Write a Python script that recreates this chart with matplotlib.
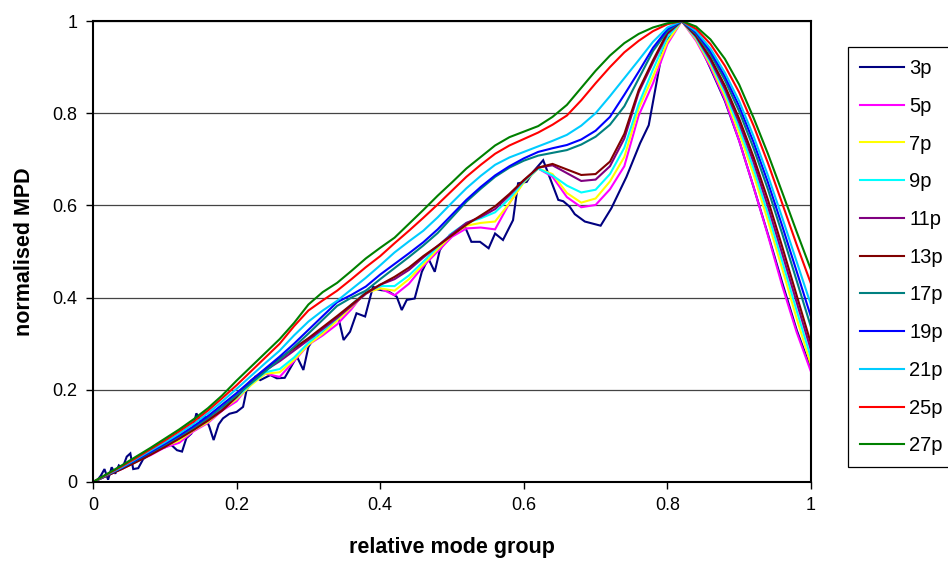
import matplotlib
matplotlib.use("Agg")
import matplotlib.pyplot as plt

plt.rcParams['font.family'] = ['Liberation Sans', 'DejaVu Sans']

# shared x grid for the smoother series
x_grid = [0.00, 0.02, 0.04, 0.06, 0.08, 0.10, 0.12, 0.14, 0.16, 0.18,
          0.20, 0.22, 0.24, 0.26, 0.28, 0.30, 0.32, 0.34, 0.36, 0.38,
          0.40, 0.42, 0.44, 0.46, 0.48, 0.50, 0.52, 0.54, 0.56, 0.58,
          0.60, 0.62, 0.64, 0.66, 0.68, 0.70, 0.72, 0.74, 0.76, 0.78,
          0.80, 0.82, 0.84, 0.86, 0.88, 0.90, 0.92, 0.94, 0.96, 0.98, 1.00]

# 3p is much noisier, read on its own x positions
x_3p = [0.000, 0.006, 0.011, 0.016, 0.021, 0.026, 0.031, 0.036, 0.041, 0.047,
        0.052, 0.056, 0.063, 0.070, 0.079, 0.089, 0.100, 0.108, 0.117, 0.124,
        0.130, 0.137, 0.144, 0.150, 0.156, 0.162, 0.168, 0.175, 0.181, 0.190,
        0.200, 0.209, 0.214, 0.226, 0.233, 0.247, 0.256, 0.267, 0.284, 0.293,
        0.300, 0.309, 0.317, 0.325, 0.337, 0.342, 0.349, 0.358, 0.367, 0.379,
        0.390, 0.396, 0.402, 0.410, 0.423, 0.430, 0.437, 0.448, 0.458, 0.467,
        0.476, 0.483, 0.497, 0.507, 0.518, 0.527, 0.539, 0.551, 0.560, 0.571,
        0.585, 0.592, 0.604, 0.613, 0.627, 0.648, 0.655, 0.664, 0.671, 0.685,
        0.707, 0.722, 0.743, 0.762, 0.774, 0.794, 0.813, 0.820, 0.830, 0.845,
        0.860, 0.880, 0.900, 0.920, 0.943, 0.960, 0.980, 1.000]
mpd_3p = [0.000, 0.004, 0.014, 0.028, 0.005, 0.032, 0.018, 0.036, 0.030, 0.055,
          0.062, 0.028, 0.030, 0.050, 0.059, 0.069, 0.075, 0.082, 0.069, 0.066,
          0.095, 0.105, 0.149, 0.130, 0.142, 0.120, 0.091, 0.125, 0.138, 0.148,
          0.152, 0.163, 0.200, 0.228, 0.221, 0.232, 0.225, 0.226, 0.272, 0.243,
          0.293, 0.315, 0.318, 0.330, 0.352, 0.355, 0.308, 0.326, 0.366, 0.359,
          0.424, 0.418, 0.416, 0.415, 0.402, 0.373, 0.395, 0.398, 0.456, 0.485,
          0.456, 0.503, 0.536, 0.545, 0.554, 0.521, 0.521, 0.507, 0.539, 0.525,
          0.568, 0.648, 0.651, 0.673, 0.698, 0.612, 0.609, 0.597, 0.581, 0.565,
          0.556, 0.594, 0.662, 0.735, 0.774, 0.944, 0.995, 1.000, 0.992, 0.948,
          0.897, 0.827, 0.740, 0.640, 0.522, 0.432, 0.330, 0.245]

mpd_5p = [0, 0.015, 0.028, 0.045, 0.058, 0.075, 0.085, 0.110, 0.128, 0.155,
          0.175, 0.215, 0.235, 0.228, 0.262, 0.298, 0.318, 0.342, 0.375, 0.415,
          0.420, 0.405, 0.430, 0.468, 0.500, 0.532, 0.550, 0.552, 0.548, 0.605,
          0.652, 0.680, 0.662, 0.618, 0.596, 0.601, 0.635, 0.685, 0.795, 0.865,
          0.950, 1.000, 0.957, 0.900, 0.830, 0.740, 0.640, 0.535, 0.425, 0.325, 0.239]
mpd_7p = [0, 0.015, 0.029, 0.045, 0.060, 0.077, 0.090, 0.112, 0.130, 0.157,
          0.180, 0.210, 0.235, 0.238, 0.265, 0.298, 0.322, 0.350, 0.380, 0.410,
          0.420, 0.415, 0.440, 0.472, 0.505, 0.536, 0.556, 0.562, 0.565, 0.605,
          0.650, 0.680, 0.668, 0.627, 0.606, 0.615, 0.652, 0.705, 0.810, 0.880,
          0.955, 1.000, 0.960, 0.905, 0.838, 0.757, 0.667, 0.567, 0.462, 0.355, 0.254]
mpd_9p = [0, 0.015, 0.029, 0.045, 0.061, 0.078, 0.094, 0.114, 0.133, 0.160,
          0.183, 0.213, 0.238, 0.245, 0.270, 0.302, 0.328, 0.355, 0.385, 0.412,
          0.425, 0.425, 0.448, 0.478, 0.510, 0.540, 0.562, 0.572, 0.585, 0.615,
          0.652, 0.680, 0.665, 0.643, 0.628, 0.634, 0.668, 0.725, 0.820, 0.895,
          0.965, 1.000, 0.963, 0.910, 0.846, 0.768, 0.680, 0.582, 0.478, 0.372, 0.269]
mpd_11p = [0, 0.014, 0.029, 0.044, 0.060, 0.077, 0.095, 0.114, 0.135, 0.157,
           0.185, 0.218, 0.242, 0.262, 0.285, 0.308, 0.332, 0.356, 0.382, 0.408,
           0.428, 0.440, 0.460, 0.487, 0.512, 0.538, 0.562, 0.575, 0.592, 0.622,
           0.654, 0.682, 0.687, 0.670, 0.653, 0.656, 0.685, 0.745, 0.845, 0.910,
           0.972, 1.000, 0.966, 0.915, 0.853, 0.779, 0.694, 0.598, 0.495, 0.390, 0.286]
mpd_13p = [0, 0.014, 0.028, 0.043, 0.059, 0.076, 0.094, 0.113, 0.133, 0.155,
           0.185, 0.220, 0.245, 0.268, 0.290, 0.312, 0.336, 0.360, 0.385, 0.410,
           0.428, 0.445, 0.465, 0.490, 0.512, 0.535, 0.558, 0.578, 0.598, 0.625,
           0.655, 0.682, 0.690, 0.678, 0.666, 0.668, 0.695, 0.755, 0.850, 0.915,
           0.975, 1.000, 0.968, 0.920, 0.860, 0.788, 0.705, 0.612, 0.510, 0.405, 0.300]
mpd_17p = [0, 0.016, 0.031, 0.047, 0.064, 0.081, 0.099, 0.118, 0.139, 0.163,
           0.188, 0.214, 0.240, 0.266, 0.293, 0.322, 0.352, 0.382, 0.400, 0.415,
           0.440, 0.464, 0.488, 0.513, 0.540, 0.574, 0.608, 0.636, 0.662, 0.682,
           0.697, 0.708, 0.714, 0.720, 0.732, 0.749, 0.775, 0.815, 0.875, 0.935,
           0.978, 1.000, 0.972, 0.928, 0.872, 0.804, 0.724, 0.635, 0.538, 0.437, 0.336]
mpd_19p = [0, 0.016, 0.031, 0.048, 0.065, 0.083, 0.101, 0.121, 0.143, 0.168,
           0.193, 0.220, 0.246, 0.272, 0.300, 0.330, 0.360, 0.390, 0.406, 0.424,
           0.450, 0.473, 0.496, 0.520, 0.548, 0.580, 0.612, 0.640, 0.665, 0.685,
           0.702, 0.716, 0.724, 0.731, 0.743, 0.762, 0.792, 0.840, 0.890, 0.942,
           0.982, 1.000, 0.975, 0.934, 0.880, 0.815, 0.737, 0.650, 0.555, 0.457, 0.358]
mpd_21p = [0, 0.016, 0.032, 0.050, 0.068, 0.086, 0.105, 0.126, 0.149, 0.175,
           0.202, 0.230, 0.258, 0.285, 0.318, 0.348, 0.372, 0.393, 0.418, 0.443,
           0.470, 0.498, 0.522, 0.545, 0.574, 0.606, 0.637, 0.664, 0.688, 0.704,
           0.716, 0.728, 0.740, 0.753, 0.773, 0.800, 0.837, 0.876, 0.915, 0.955,
           0.986, 1.000, 0.978, 0.940, 0.888, 0.826, 0.750, 0.665, 0.573, 0.478, 0.384]
mpd_25p = [0, 0.017, 0.034, 0.052, 0.071, 0.090, 0.110, 0.131, 0.155, 0.182,
           0.210, 0.240, 0.270, 0.300, 0.338, 0.372, 0.394, 0.415, 0.440, 0.466,
           0.490, 0.518, 0.545, 0.573, 0.602, 0.632, 0.662, 0.688, 0.712, 0.730,
           0.744, 0.758, 0.775, 0.795, 0.828, 0.865, 0.900, 0.932, 0.957, 0.978,
           0.993, 1.000, 0.983, 0.950, 0.903, 0.845, 0.773, 0.692, 0.604, 0.515, 0.430]
mpd_27p = [0, 0.018, 0.036, 0.055, 0.074, 0.094, 0.114, 0.136, 0.160, 0.188,
           0.220, 0.250, 0.280, 0.310, 0.345, 0.385, 0.412, 0.432, 0.458, 0.485,
           0.508, 0.530, 0.560, 0.590, 0.621, 0.650, 0.680, 0.705, 0.730, 0.748,
           0.760, 0.772, 0.792, 0.818, 0.855, 0.892, 0.925, 0.952, 0.972, 0.986,
           0.995, 1.000, 0.988, 0.960, 0.918, 0.862, 0.790, 0.712, 0.628, 0.543, 0.460]

labels = ['3p', '5p', '7p', '9p', '11p', '13p', '17p', '19p', '21p', '25p', '27p']
colors = ['#000080', '#FF00FF', '#FFFF00', '#00FFFF', '#800080', '#800000',
          '#008080', '#0000FF', '#00CCFF', '#FF0000', '#008000']

series = [(x_3p, mpd_3p), (x_grid, mpd_5p), (x_grid, mpd_7p), (x_grid, mpd_9p),
          (x_grid, mpd_11p), (x_grid, mpd_13p), (x_grid, mpd_17p), (x_grid, mpd_19p),
          (x_grid, mpd_21p), (x_grid, mpd_25p), (x_grid, mpd_27p)]

fig = plt.figure(figsize=(9.48, 5.63), dpi=100)
ax = fig.add_axes([93/948, 1 - 482/563, (811 - 93)/948, (482 - 21)/563])

for (xs, ys), lab, col in zip(series, labels, colors):
    ax.plot(xs, ys, color=col, lw=1.5, label=lab, solid_joinstyle='miter')

ax.set_xlim(0, 1)
ax.set_ylim(0, 1)
ax.set_xticks([0, 0.2, 0.4, 0.6, 0.8, 1])
ax.set_xticklabels(['0', '0.2', '0.4', '0.6', '0.8', '1'])
ax.set_yticks([0, 0.2, 0.4, 0.6, 0.8, 1])
ax.set_yticklabels(['0', '0.2', '0.4', '0.6', '0.8', '1'])
ax.tick_params(direction='out', length=5, width=1, labelsize=13, pad=6)
ax.yaxis.grid(True, color='#444444', lw=0.9)
ax.set_axisbelow(True)
for s in ax.spines.values():
    s.set_linewidth(1.5)
    s.set_color('black')

ax.set_xlabel('relative mode group', fontsize=15.5, fontweight='bold', labelpad=16)
ax.set_ylabel('normalised MPD', fontsize=15.5, fontweight='bold', labelpad=13)

leg = ax.legend(loc='upper left', bbox_to_anchor=(848/948, 1 - 47/563),
                bbox_transform=fig.transFigure, borderaxespad=0, fontsize=14.5,
                handlelength=2.2, handletextpad=0.25, labelspacing=0.93,
                fancybox=False, framealpha=1, borderpad=0.6)
leg.get_frame().set_edgecolor('black')
leg.get_frame().set_linewidth(0.9)

fig.savefig('out.png', dpi=100)
